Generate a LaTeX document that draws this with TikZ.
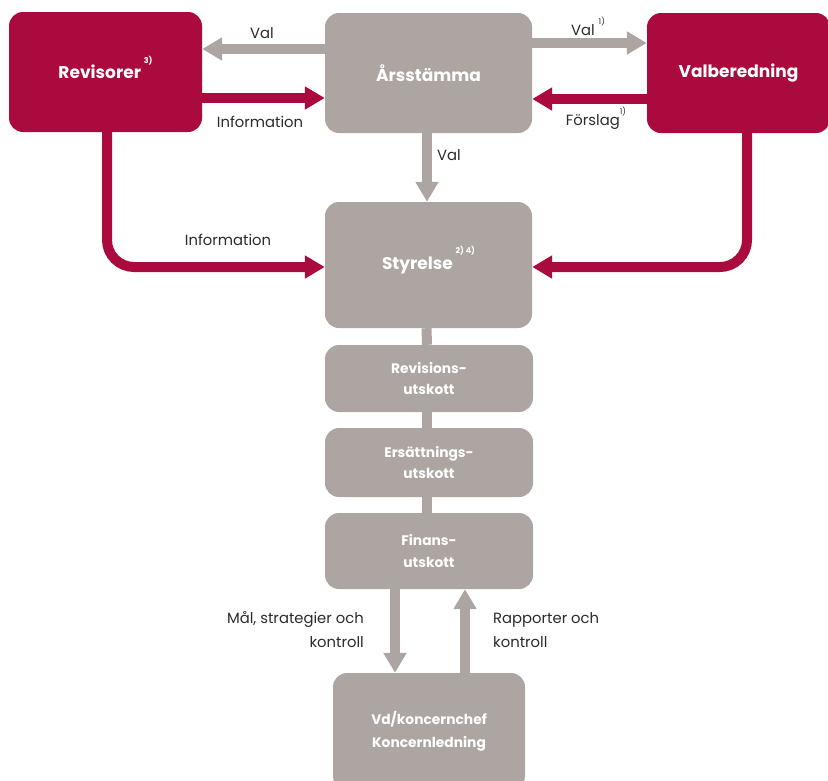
\documentclass[tikz,border=0pt]{standalone}
\usepackage{fontspec}
\setmainfont{Poppins}
\usetikzlibrary{arrows.meta}

\definecolor{crimson}{RGB}{171,10,62}
\definecolor{stone}{RGB}{173,165,161}
\definecolor{ink}{RGB}{45,42,42}

\newcommand{\fnote}[2][1.6ex]{\smash{\raisebox{#1}{\fontsize{8}{8}\selectfont#2}}}

\tikzset{
	box/.style={rectangle, rounded corners=14pt, inner sep=0pt, text=white,
		font=\fontsize{17}{19}\selectfont\bfseries, align=center},
	smallbox/.style={box, font=\fontsize{13.8}{21.5}\selectfont\bfseries},
	grayline/.style={line width=10pt, stone},
	grayarrow/.style={grayline, -{Triangle[length=20pt,width=22pt]}},
	redarrow/.style={line width=10pt, crimson, -{Triangle[length=20pt,width=22pt]}},
	lbl/.style={text=ink, font=\fontsize{14.8}{24}\selectfont, inner sep=0pt}
}

\begin{document}
\begin{tikzpicture}[x=1pt, y=-1pt]
	\useasboundingbox (0,0) rectangle (828,780);

	% boxes
	\node[box, fill=crimson, minimum width=193pt, minimum height=120pt] at (105.5,72) (revisorer) {Revisorer\,\fnote{3)}};
	\node[box, fill=stone, minimum width=207pt, minimum height=120pt] at (428.5,73) (stamma) {Årsstämma};
	\node[box, fill=crimson, minimum width=183pt, minimum height=120pt] at (738.5,73) (valb) {Valberedning};
	\node[box, fill=stone, minimum width=207pt, minimum height=126pt] at (428.5,265) (styrelse) {Styrelse\,\fnote{2) 4)}};

	\node[smallbox, fill=stone, minimum width=208pt, minimum height=67pt] at (429,378.5) (revu) {Revisions-\\utskott};
	\node[smallbox, fill=stone, minimum width=208pt, minimum height=69pt] at (429,462.5) (ersu) {Ersättnings-\\utskott};
	\node[smallbox, fill=stone, minimum width=208pt, minimum height=76pt] at (429,551) (finu) {Finans-\\utskott};
	\node[smallbox, fill=stone, minimum width=192pt, minimum height=117pt, font=\fontsize{13.8}{23}\selectfont\bfseries] at (429,731.5) (vd) {Vd/koncernchef\\Koncernledning};

	% top row
	\draw[grayarrow] ([yshift=24pt]stamma.west) -- ([yshift=24pt]revisorer.east |- stamma.west);
	\draw[redarrow] ([yshift=-25pt]revisorer.east |- stamma.west) -- ([yshift=-25pt]stamma.west);
	\draw[grayarrow] ([yshift=30pt]stamma.east) -- ([yshift=30pt]valb.west);
	\draw[redarrow] ([yshift=-26pt]valb.west) -- ([yshift=-26pt]stamma.east);
	\draw[grayarrow] ([xshift=-1.5pt]stamma.south) -- ([xshift=-1.5pt]styrelse.north);

	% to the board
	\draw[redarrow, rounded corners=27pt] ([xshift=1.5pt]revisorer.south) |- ([yshift=-2pt]styrelse.west);
	\draw[redarrow, rounded corners=27pt] ([xshift=8.5pt]valb.south) |- ([yshift=-2pt]styrelse.east);

	% committees
	\draw[grayline] ([xshift=-2pt]styrelse.south) -- ([xshift=-2pt]revu.north);
	\draw[grayline] ([xshift=-2pt]revu.south) -- ([xshift=-2pt]ersu.north);
	\draw[grayline] ([xshift=-2pt]ersu.south) -- ([xshift=-2pt]finu.north);

	% management
	\draw[grayarrow] ([xshift=-34pt]finu.south) -- ([xshift=-34pt]finu.south |- vd.north);
	\draw[grayarrow] ([xshift=36pt]finu.south |- vd.north) -- ([xshift=36pt]finu.south);

	% labels
	\node[lbl] at (262,33) (l1) {Val};
	\node[lbl] at (260,122) (l2) {Information};
	\node[lbl] at (588,30) (l3) {Val\ \fnote[1.3ex]{1)}};
	\node[lbl] at (596,122) (l4) {Förslag\fnote[1.3ex]{1)}};
	\node[lbl, anchor=west] at (437,155) (l5) {Val};
	\node[lbl] at (228,240) (l6) {Information};
	\node[lbl, align=right, anchor=east] at (364,630) (l7) {Mål, strategier och\\kontroll};
	\node[lbl, align=left, anchor=west] at (493,630) (l8) {Rapporter och\\kontroll};
\end{tikzpicture}
\end{document}
